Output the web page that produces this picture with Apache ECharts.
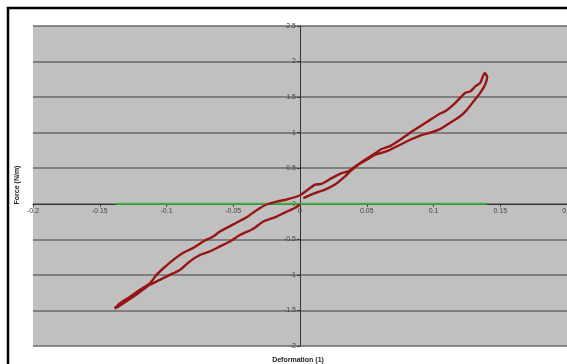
<!DOCTYPE html>
<html>
<head>
<meta charset="utf-8">
<script src="https://cdn.jsdelivr.net/npm/echarts@6/dist/echarts.min.js"></script>
<style>
html,body{margin:0;padding:0;background:#fff;overflow:hidden;}
#chart{width:567px;height:364px;}
</style>
</head>
<body>
<div id="chart"></div>
<script>
// Hysteresis loop: deformation (x) and force (y), traced in drawing order
const deformation = [
  0.0025, 0.01125, 0.01875, 0.02625, 0.03375, 0.0375, 0.0437, 0.05, 0.05625, 0.065, 0.0675, 0.075, 0.0825, 0.09, 0.0975, 0.105, 0.1125, 0.12, 0.125, 0.13, 0.135, 0.1388, 0.1402, 0.1383,
  0.135, 0.1313, 0.1275, 0.1238, 0.12, 0.1148, 0.1088, 0.105, 0.0975, 0.09, 0.0825, 0.075, 0.0675, 0.06125, 0.05625, 0.04875, 0.04125, 0.03625, 0.03125, 0.02375, 0.01625, 0.01125, 0.00375, 0, -0.01, -0.0175, -0.025, -0.0325, -0.04, -0.05, -0.06, -0.065, -0.0725, -0.08, -0.0875, -0.0963, -0.1025, -0.1075, -0.1125, -0.12, -0.1275, -0.135, -0.1388,
  -0.1365, -0.1275, -0.12, -0.1125, -0.105, -0.0975, -0.09, -0.0825, -0.075, -0.0675, -0.06, -0.0525, -0.045, -0.035, -0.0275, -0.0175, -0.01, -0.0038, 0
];
const force = [
  0.08, 0.15, 0.20, 0.27, 0.385, 0.455, 0.55, 0.62, 0.69, 0.74, 0.76, 0.83, 0.90, 0.96, 1.00, 1.05, 1.14, 1.23, 1.32, 1.44, 1.56, 1.68, 1.79, 1.84,
  1.70, 1.65, 1.58, 1.56, 1.49, 1.39, 1.30, 1.27, 1.18, 1.09, 1.00, 0.90, 0.81, 0.77, 0.71, 0.62, 0.525, 0.455, 0.43, 0.36, 0.28, 0.27, 0.17, 0.12, 0.06, 0.03, -0.01, -0.09, -0.19, -0.29, -0.39, -0.46, -0.53, -0.62, -0.69, -0.81, -0.91, -1.00, -1.12, -1.21, -1.31, -1.40, -1.47,
  -1.45, -1.34, -1.24, -1.14, -1.07, -1.00, -0.93, -0.81, -0.72, -0.67, -0.60, -0.53, -0.44, -0.35, -0.25, -0.18, -0.11, -0.06, -0.01
];
// Green baseline series
const baselineX = [-0.138, 0.14];
const baselineY = [0, 0];
// Axis tick values
const xTicks = [-0.2, -0.15, -0.1, -0.05, 0, 0.05, 0.1, 0.15, 0.2];
const yTicks = [-2, -1.5, -1, -0.5, 0, 0.5, 1, 1.5, 2, 2.5];
const xTitle = 'Deformation (1)';
const yTitle = 'Force (N/m)';

const loopData = deformation.map((d, i) => [d, force[i]]);
const baseData = baselineX.map((d, i) => [d, baselineY[i]]);

const chart = echarts.init(document.getElementById('chart'), null, {renderer: 'canvas'});
const labelStyle = {fontFamily: 'Liberation Sans, Arial, sans-serif', fontSize: 7, color: '#444'};
const GRID = {left: 33, right: 0, top: 26, bottom: 18};
chart.setOption({
  animation: false,
  backgroundColor: '#fff',
  grid: Object.assign({show: true, backgroundColor: '#c0c0c0', borderWidth: 0, containLabel: false, outerBoundsMode: 'none'}, GRID),
  xAxis: {
    type: 'value', position: 'bottom', offset: 0, z: 1,
    min: xTicks[0], max: xTicks[xTicks.length - 1], interval: 0.05,
    axisLine: {onZero: false, lineStyle: {color: '#333', width: 1}},
    axisTick: {show: true, length: 3, lineStyle: {color: '#333'}},
    axisLabel: Object.assign({margin: 4, showMinLabel: true, showMaxLabel: true}, labelStyle),
    splitLine: {show: false}
  },
  yAxis: {
    type: 'value', position: 'left', offset: 0, z: 1,
    min: yTicks[0], max: yTicks[yTicks.length - 1], interval: 0.5,
    axisLine: {onZero: false, lineStyle: {color: '#333', width: 1}},
    axisTick: {show: true, length: 3, lineStyle: {color: '#333'}},
    axisLabel: Object.assign({margin: 4, showMinLabel: true, showMaxLabel: true}, labelStyle),
    splitLine: {show: true, lineStyle: {color: '#6a6a6a', width: 1.5}}
  },
  graphic: [
    {type: 'rect', silent: true, z: 100, shape: {x: 8, y: 8, width: 700, height: 500},
     style: {fill: 'none', stroke: '#000', lineWidth: 2.5}},
    {type: 'text', x: 298, y: 360, z: 100,
     style: {text: xTitle, fontFamily: 'Liberation Sans, Arial, sans-serif', fontSize: 7, fontWeight: 'bold', fill: '#222', align: 'center', verticalAlign: 'middle'}},
    {type: 'text', x: 17, y: 185, rotation: Math.PI / 2, z: 100,
     style: {text: yTitle, fontFamily: 'Liberation Sans, Arial, sans-serif', fontSize: 7, fontWeight: 'bold', fill: '#222', align: 'center', verticalAlign: 'middle'}}
  ],
  series: [
    {type: 'line', data: baseData, showSymbol: false, z: 10,
     lineStyle: {color: '#46b046', width: 2}},
    {type: 'line', data: loopData, showSymbol: false, smooth: 0.15, z: 11,
     lineStyle: {color: '#981515', width: 2.4}}
  ]
});
// Move the axes so they cross at the origin, as in the reference
const origin = chart.convertToPixel({gridIndex: 0}, [0, 0]);
const H = chart.getHeight();
const xAxisOffset = -((H - GRID.bottom) - origin[1]);
const yAxisOffset = -(origin[0] - GRID.left);
chart.setOption({xAxis: {offset: xAxisOffset}, yAxis: {offset: yAxisOffset}});
</script>
</body>
</html>
